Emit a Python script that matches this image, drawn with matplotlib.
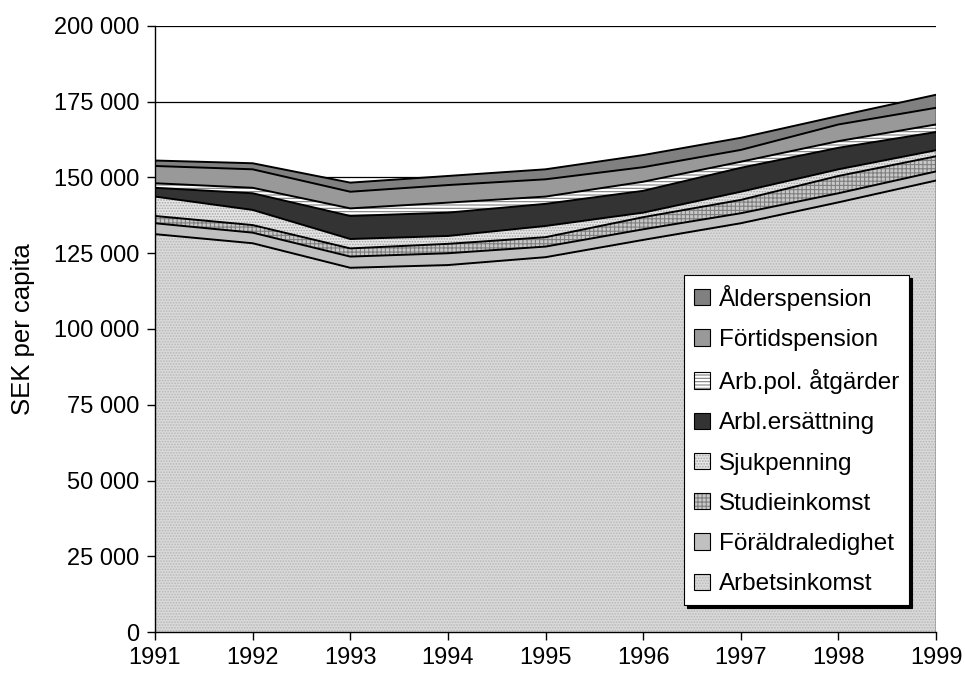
import numpy as np
import matplotlib
matplotlib.use("Agg")
import matplotlib.pyplot as plt
from matplotlib.patches import Patch
from matplotlib.ticker import FuncFormatter

plt.rcParams['font.family'] = ['Liberation Sans', 'DejaVu Sans']
plt.rcParams['hatch.linewidth'] = 0.8

# --- data (thousand SEK per capita) ---
years = [1991, 1992, 1993, 1994, 1995, 1996, 1997, 1998, 1999]
arbetsinkomst = [131.3, 128.3, 120.2, 121.1, 123.7, 129.4, 134.9, 141.8, 149.0]
foraldraledighet = [3.6, 3.5, 3.7, 3.9, 3.5, 3.5, 3.3, 3.0, 3.0]
studieinkomst = [2.4, 2.5, 2.7, 3.1, 3.1, 4.0, 4.4, 5.7, 5.0]
sjukpenning = [6.4, 5.0, 3.1, 2.6, 3.7, 1.5, 2.7, 2.2, 2.0]
arbl_ersattning = [2.9, 5.5, 7.6, 7.7, 7.3, 7.2, 7.9, 7.1, 6.0]
arbpol_atgarder = [1.5, 1.8, 2.5, 3.3, 2.4, 3.0, 2.0, 2.2, 2.5]
fortidspension = [5.7, 6.1, 5.5, 5.8, 5.7, 4.8, 3.9, 5.5, 5.5]
alderspension = [1.8, 2.0, 3.0, 3.0, 3.3, 4.0, 4.0, 2.8, 4.3]

labels = ['Arbetsinkomst', 'Föräldraledighet', 'Studieinkomst', 'Sjukpenning',
          'Arbl.ersättning', 'Arb.pol. åtgärder', 'Förtidspension', 'Ålderspension']
series = [arbetsinkomst, foraldraledighet, studieinkomst, sjukpenning,
          arbl_ersattning, arbpol_atgarder, fortidspension, alderspension]

# face colour, hatch, hatch colour
styles = [
    ('#d9d9d9', '......', '#b8b8b8'),
    ('#c0c0c0', None, None),
    ('#c8c8c8', '++++', '#808080'),
    ('#e6e6e6', '......', '#a6a6a6'),
    ('#333333', None, None),
    ('#ffffff', '-----', '#808080'),
    ('#999999', None, None),
    ('#808080', None, None),
]

fig = plt.figure(figsize=(9.65, 6.82), dpi=100)
ax = fig.add_axes([0.1606, 0.0733, 0.8094, 0.8886])

x = np.array(years)
data = np.array(series) * 1000
bottom = np.zeros(len(years))
handles = []
for lab, vals, (fc, hatch, hc) in zip(labels, data, styles):
    top = bottom + vals
    if hatch:
        ax.fill_between(x, bottom, top, facecolor=fc, edgecolor=hc, hatch=hatch,
                        linewidth=0, zorder=2)
        h = (Patch(facecolor=fc, edgecolor=hc, hatch=hatch, linewidth=0),
             Patch(facecolor='none', edgecolor='black', linewidth=0.8))
    else:
        ax.fill_between(x, bottom, top, facecolor=fc, linewidth=0, zorder=2)
        h = Patch(facecolor=fc, edgecolor='black', linewidth=0.8)
    ax.plot(x, top, color='black', linewidth=1.4, zorder=3)
    handles.append(h)
    bottom = top

ax.vlines(x[-1], 0, bottom[-1], color='black', linewidth=1.0, zorder=3)

ax.set_xlim(years[0], years[-1])
ax.set_ylim(0, 200000)
ax.set_xticks(years)
ax.set_yticks(np.arange(0, 200001, 25000))
ax.yaxis.set_major_formatter(FuncFormatter(lambda v, p: f"{int(v):,}".replace(',', ' ')))
ax.tick_params(labelsize=17, direction='out', length=6, width=1, colors='black')
ax.tick_params(axis='x', pad=5)
ax.tick_params(axis='y', pad=5)
ax.set_ylabel('SEK per capita', fontsize=18.5, labelpad=14)

ax.grid(True, axis='y', color='black', linewidth=0.9, zorder=1)
ax.set_axisbelow(True)
for s in ['top', 'right']:
    ax.spines[s].set_visible(False)
for s in ['left', 'bottom']:
    ax.spines[s].set_linewidth(1.0)
    ax.spines[s].set_zorder(4)

leg = ax.legend(handles[::-1], labels[::-1], loc='lower right',
                bbox_to_anchor=(0.9655, 0.0446), fontsize=17.5, frameon=True,
                fancybox=False, edgecolor='black', framealpha=1,
                shadow={'color': 'black', 'alpha': 1},
                handlelength=0.66, handleheight=0.66, handletextpad=0.37,
                labelspacing=0.75, borderpad=0.4, borderaxespad=0)
leg.get_frame().set_linewidth(0.8)
leg.set_zorder(5)

fig.savefig('out.png', dpi=100)
